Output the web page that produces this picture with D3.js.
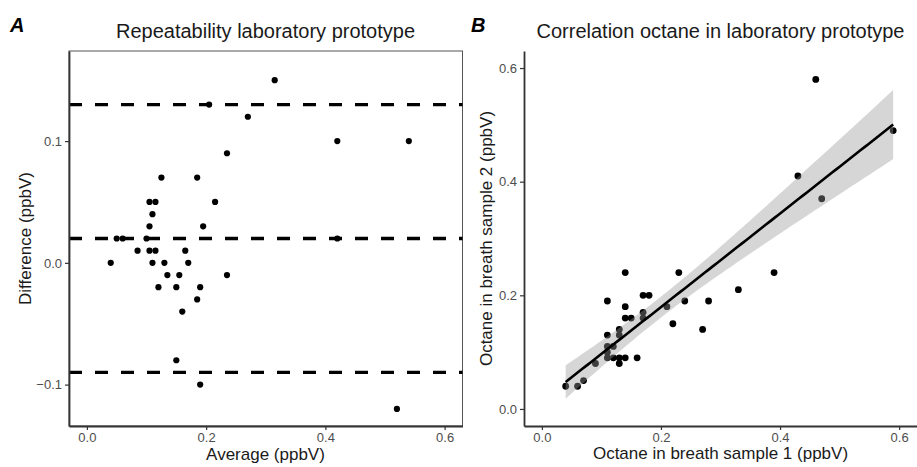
<!DOCTYPE html>
<html>
<head>
<meta charset="utf-8">
<script src="https://cdn.jsdelivr.net/npm/d3@7"></script>
<style>
  body { margin: 0; background: #fff; }
  svg text { font-family: "Liberation Sans", Arial, Helvetica, sans-serif; }
  .tick text { fill: #4d4d4d; font-size: 13px; }
  .tick line { stroke: #333; stroke-width: 1.2; }
</style>
</head>
<body>
<script>
// panel A: Bland-Altman values
var average = [0.315, 0.205, 0.27, 0.42, 0.54, 0.235, 0.125, 0.185, 0.105, 0.115,
  0.215, 0.11, 0.105, 0.195, 0.05, 0.06, 0.10, 0.42, 0.085, 0.105,
  0.115, 0.165, 0.04, 0.11, 0.13, 0.17, 0.135, 0.155, 0.235, 0.12,
  0.15, 0.19, 0.185, 0.16, 0.15, 0.19, 0.52];
var difference = [0.15, 0.13, 0.12, 0.10, 0.10, 0.09, 0.07, 0.07, 0.05, 0.05,
  0.05, 0.04, 0.03, 0.03, 0.02, 0.02, 0.02, 0.02, 0.01, 0.01,
  0.01, 0.01, 0.0, 0.0, 0.0, 0.0, -0.01, -0.01, -0.01, -0.02,
  -0.02, -0.02, -0.03, -0.04, -0.08, -0.10, -0.12];
var limits = [0.13, 0.02, -0.09]; // upper LoA, mean, lower LoA

// panel B: the two breath samples
var sample1 = [0.39, 0.27, 0.33, 0.47, 0.59, 0.28, 0.16, 0.22, 0.13, 0.14,
  0.24, 0.13, 0.12, 0.21, 0.06, 0.07, 0.11, 0.43, 0.09, 0.11,
  0.12, 0.17, 0.04, 0.11, 0.13, 0.17, 0.13, 0.15, 0.23, 0.11,
  0.14, 0.18, 0.17, 0.14, 0.11, 0.14, 0.46];
var sample2 = [0.24, 0.14, 0.21, 0.37, 0.49, 0.19, 0.09, 0.15, 0.08, 0.09,
  0.19, 0.09, 0.09, 0.18, 0.04, 0.05, 0.09, 0.41, 0.08, 0.10,
  0.11, 0.16, 0.04, 0.11, 0.13, 0.17, 0.14, 0.16, 0.24, 0.13,
  0.16, 0.20, 0.20, 0.18, 0.19, 0.24, 0.58];

var ticksA_x = [0, 0.2, 0.4, 0.6];
var ticksA_y = [-0.1, 0, 0.1];
var ticksB = [0, 0.2, 0.4, 0.6];

var W = 917, H = 467;
var svg = d3.select('body').append('svg')
  .attr('width', W).attr('height', H);

var fmt = d3.format('.1f');

// ---------- panel A ----------
var ax = d3.scaleLinear().domain([-0.03, 0.63]).range([69, 462.5]);
var ay = d3.scaleLinear().domain([-0.134, 0.174]).range([426, 51]);

var gA = svg.append('g');

gA.append('rect')
  .attr('x', 69).attr('y', 51)
  .attr('width', 462.5 - 69).attr('height', 426 - 51)
  .attr('fill', 'none').attr('stroke', '#555').attr('stroke-width', 1);

gA.selectAll('line.loa')
  .data(limits)
  .enter()
  .append('line')
  .attr('class', 'loa')
  .attr('x1', 69).attr('x2', 462.5)
  .attr('y1', d => ay(d)).attr('y2', d => ay(d))
  .attr('stroke', '#000')
  .attr('stroke-width', 3.3)
  .attr('stroke-dasharray', '13,13');

gA.selectAll('circle')
  .data(average)
  .enter()
  .append('circle')
  .attr('cx', d => ax(d))
  .attr('cy', (d, i) => ay(difference[i]))
  .attr('r', 3.1)
  .attr('fill', '#000');

var axA_x = gA.append('g')
  .attr('transform', 'translate(0,426)')
  .call(d3.axisBottom(ax).tickValues(ticksA_x).tickFormat(fmt).tickSize(4).tickPadding(3).tickSizeOuter(0));
var axA_y = gA.append('g')
  .attr('transform', 'translate(69,0)')
  .call(d3.axisLeft(ay).tickValues(ticksA_y).tickFormat(fmt).tickSize(4).tickPadding(3).tickSizeOuter(0));
[axA_x, axA_y].forEach(a => a.select('.domain').attr('stroke', '#333').attr('stroke-width', 1.8));

gA.append('text')
  .attr('x', 265.5).attr('y', 460)
  .attr('text-anchor', 'middle')
  .style('font-size', '17px').attr('fill', '#1a1a1a')
  .text('Average (ppbV)');
gA.append('text')
  .attr('transform', 'translate(31,238.5) rotate(-90)')
  .attr('text-anchor', 'middle')
  .style('font-size', '17px').attr('fill', '#1a1a1a')
  .text('Difference (ppbV)');
gA.append('text')
  .attr('x', 265.5).attr('y', 38)
  .attr('text-anchor', 'middle')
  .style('font-size', '20px').attr('fill', '#1a1a1a')
  .text('Repeatability laboratory prototype');
gA.append('text')
  .attr('x', 10).attr('y', 32)
  .style('font-size', '20px').style('font-weight', 'bold').style('font-style', 'italic')
  .text('A');

// ---------- panel B ----------
var bx = d3.scaleLinear().domain([-0.03, 0.63]).range([524, 917]);
var by = d3.scaleLinear().domain([-0.03, 0.63]).range([426, 51]);

var gB = svg.append('g');

gB.selectAll('circle')
  .data(sample1)
  .enter()
  .append('circle')
  .attr('cx', d => bx(d))
  .attr('cy', (d, i) => by(sample2[i]))
  .attr('r', 3.4)
  .attr('fill', '#000');

// linear fit with 95% confidence band (like geom_smooth(method = "lm"))
var n = sample1.length;
var mx = d3.mean(sample1), my = d3.mean(sample2);
var sxx = d3.sum(sample1, d => (d - mx) * (d - mx));
var sxy = d3.sum(sample1, (d, i) => (d - mx) * (sample2[i] - my));
var slope = sxy / sxx, icpt = my - slope * mx;
var rss = d3.sum(sample1, (d, i) => Math.pow(sample2[i] - (icpt + slope * d), 2));
var sigma = Math.sqrt(rss / (n - 2));
var tq = 2.03; // t(0.975, df = 35)
var fit = d3.range(0, 81).map(k => {
  var x = d3.min(sample1) + k * (d3.max(sample1) - d3.min(sample1)) / 80;
  var y = icpt + slope * x;
  var se = sigma * Math.sqrt(1 / n + (x - mx) * (x - mx) / sxx);
  return {x: x, y: y, lo: y - tq * se, hi: y + tq * se};
});

gB.append('path')
  .datum(fit)
  .attr('d', d3.area().x(d => bx(d.x)).y0(d => by(d.lo)).y1(d => by(d.hi)))
  .attr('fill', '#999999').attr('fill-opacity', 0.4);
gB.append('path')
  .datum(fit)
  .attr('d', d3.line().x(d => bx(d.x)).y(d => by(d.y)))
  .attr('fill', 'none').attr('stroke', '#000').attr('stroke-width', 2.6);

var axB_x = gB.append('g')
  .attr('transform', 'translate(0,426)')
  .call(d3.axisBottom(bx).tickValues(ticksB).tickFormat(fmt).tickSize(4).tickPadding(3).tickSizeOuter(0));
var axB_y = gB.append('g')
  .attr('transform', 'translate(524,0)')
  .call(d3.axisLeft(by).tickValues(ticksB).tickFormat(fmt).tickSize(4).tickPadding(3).tickSizeOuter(0));
[axB_x, axB_y].forEach(a => a.select('.domain').attr('stroke', '#333').attr('stroke-width', 1.8));

gB.append('text')
  .attr('x', 720.5).attr('y', 459)
  .attr('text-anchor', 'middle')
  .style('font-size', '17px').attr('fill', '#1a1a1a')
  .text('Octane in breath sample 1 (ppbV)');
gB.append('text')
  .attr('transform', 'translate(492,238.5) rotate(-90)')
  .attr('text-anchor', 'middle')
  .style('font-size', '17px').attr('fill', '#1a1a1a')
  .text('Octane in breath sample 2 (ppbV)');
gB.append('text')
  .attr('x', 720.5).attr('y', 38)
  .attr('text-anchor', 'middle')
  .style('font-size', '20px').attr('fill', '#1a1a1a')
  .text('Correlation octane in laboratory prototype');
gB.append('text')
  .attr('x', 471).attr('y', 32)
  .style('font-size', '20px').style('font-weight', 'bold').style('font-style', 'italic')
  .text('B');
</script>
</body>
</html>
